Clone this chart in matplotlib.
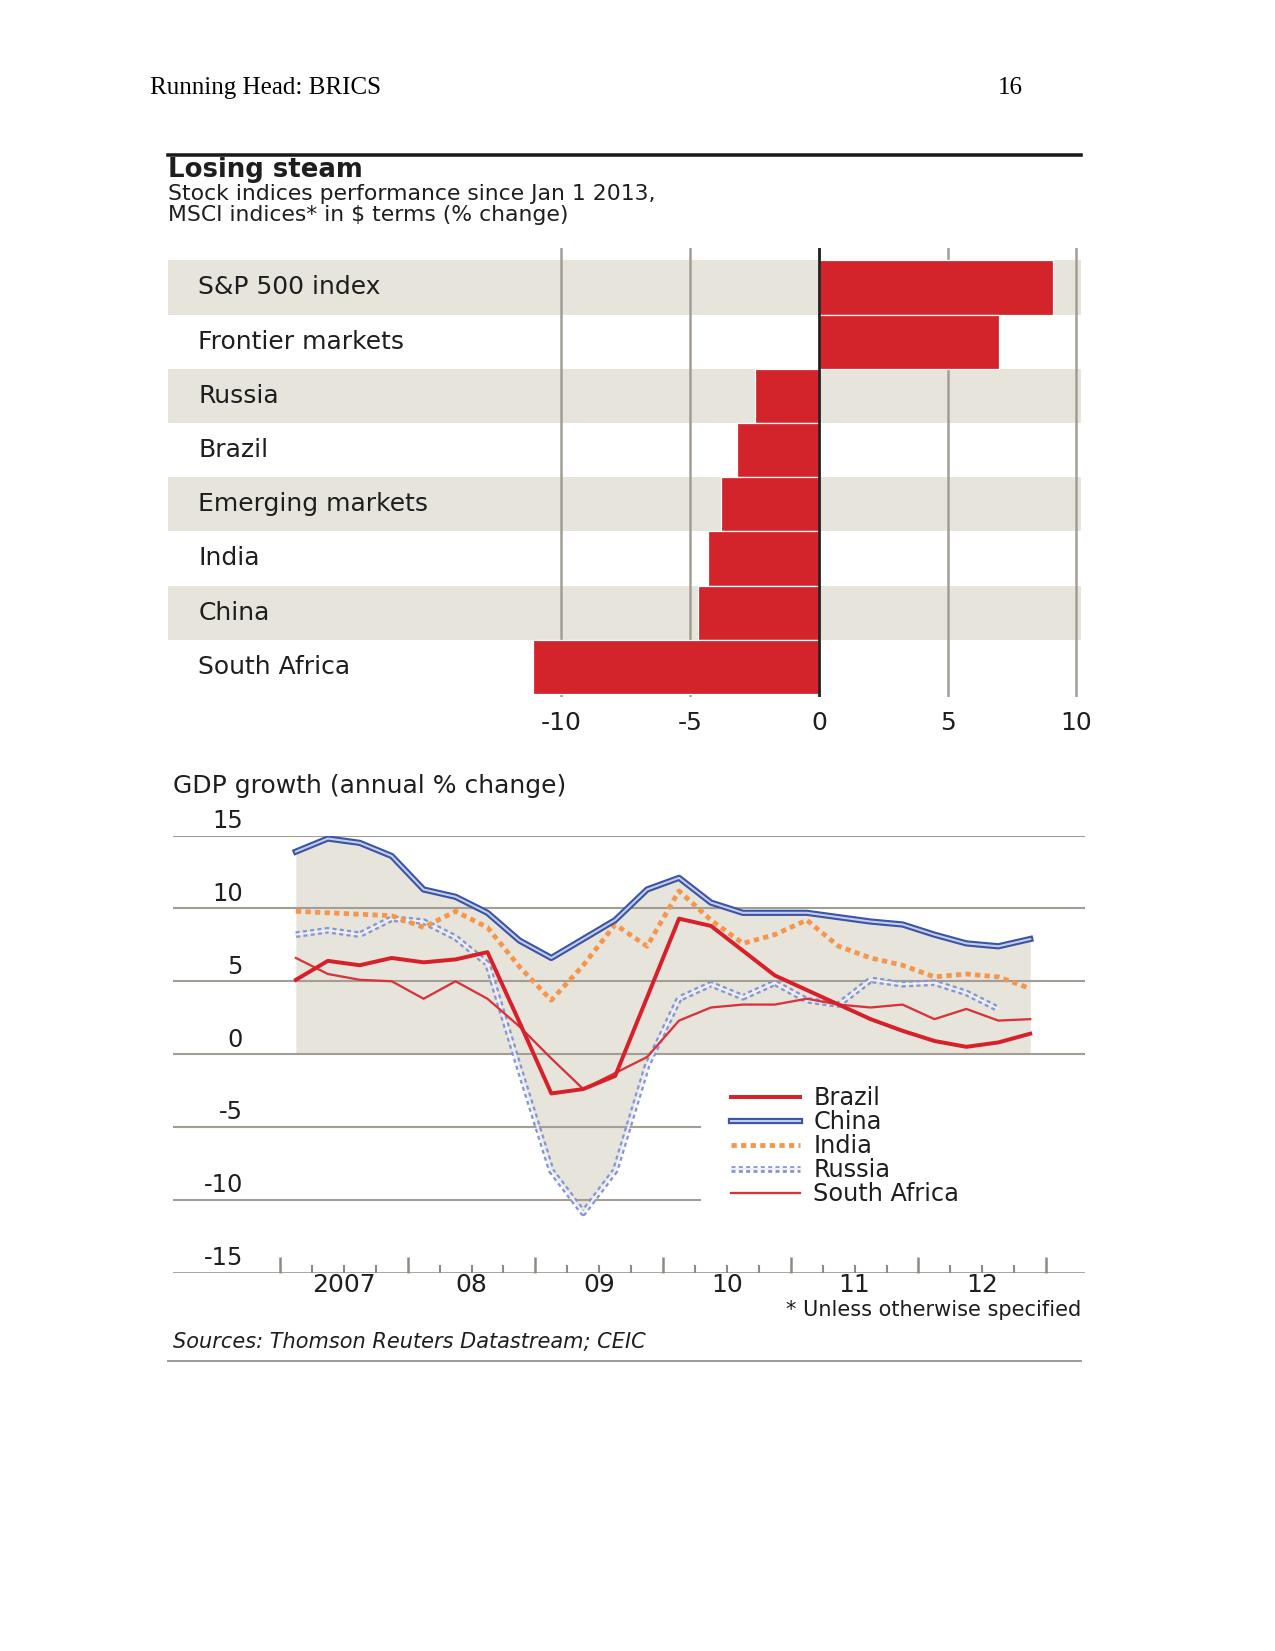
import numpy as np
import matplotlib.pyplot as plt
import matplotlib.transforms as mtransforms
from matplotlib.lines import Line2D
from matplotlib.legend_handler import HandlerTuple

plt.rcParams['font.family'] = ['DejaVu Sans']

W, H = 1275, 1651

# Stock indices performance since Jan 1 2013 (% change)
markets = ['S&P 500 index', 'Frontier markets', 'Russia', 'Brazil',
           'Emerging markets', 'India', 'China', 'South Africa']
perf = [9.1, 7.0, -2.5, -3.2, -3.8, -4.3, -4.7, -11.1]
perf_ticks = [-10, -5, 0, 5, 10]

# GDP growth, annual % change, quarterly
quarters = ['2007Q1', '2007Q2', '2007Q3', '2007Q4', '2008Q1', '2008Q2',
            '2008Q3', '2008Q4', '2009Q1', '2009Q2', '2009Q3', '2009Q4',
            '2010Q1', '2010Q2', '2010Q3', '2010Q4', '2011Q1', '2011Q2',
            '2011Q3', '2011Q4', '2012Q1', '2012Q2', '2012Q3', '2012Q4']
brazil = [5.1, 6.4, 6.1, 6.6, 6.3, 6.5, 7.0, 2.2, -2.7, -2.4, -1.5, 3.9,
          9.3, 8.8, 7.1, 5.4, 4.4, 3.4, 2.4, 1.6, 0.9, 0.5, 0.8, 1.4]
china = [13.9, 14.8, 14.5, 13.6, 11.3, 10.8, 9.7, 7.8, 6.6, 7.9, 9.2, 11.3,
         12.1, 10.4, 9.7, 9.7, 9.7, 9.4, 9.1, 8.9, 8.2, 7.6, 7.4, 7.9]
india = [9.8, 9.7, 9.6, 9.5, 8.7, 9.8, 8.7, 6.0, 3.7, 6.1, 8.9, 7.4,
         11.2, 9.2, 7.6, 8.2, 9.2, 7.4, 6.6, 6.1, 5.3, 5.5, 5.3, 4.5]
russia = [8.2, 8.5, 8.2, 9.3, 9.1, 8.0, 6.2, -1.0, -8.0, -10.9, -8.0, -0.8,
          3.8, 4.8, 3.9, 4.9, 3.7, 3.4, 5.1, 4.8, 4.9, 4.2, 3.1]
south_africa = [6.6, 5.5, 5.1, 5.0, 3.8, 5.0, 3.8, 1.9, -0.3, -2.4, -1.3, -0.2,
                2.3, 3.2, 3.4, 3.4, 3.8, 3.4, 3.2, 3.4, 2.4, 3.1, 2.3, 2.4]
gdp_ticks = [15, 10, 5, 0, -5, -10, -15]
year_labels = ['2007', '08', '09', '10', '11', '12']

RED = '#d3232b'
BAND = '#e7e4db'
GRID = '#a29e95'
TXT = '#1e1e1e'


def rect(x0, y0, x1, y1):
    # pixel box -> figure fraction
    return [x0 / W, 1 - y1 / H, (x1 - x0) / W, (y1 - y0) / H]


def qpos(q):
    return int(q[:4]) + (int(q[5]) - 0.5) / 4


fig = plt.figure(figsize=(W / 150, H / 150), dpi=150)

fig.text(150 / W, 1 - 88 / H, 'Running Head: BRICS', family='Liberation Serif',
         fontsize=12, va='center', color='black')
fig.text(998 / W, 1 - 88 / H, '16', family='Liberation Serif',
         fontsize=12, va='center', color='black')

# header block
fig.add_artist(Line2D([168 / W, 1081 / W], [1 - 155 / H] * 2, color='#1a1a1a', lw=1.7))
fig.text(168 / W, 1 - 170 / H, 'Losing steam', fontsize=12.5, weight='bold',
         va='center', color=TXT)
fig.text(168 / W, 1 - 194 / H, 'Stock indices performance since Jan 1 2013,',
         fontsize=10.5, va='center', color=TXT)
fig.text(168 / W, 1 - 215 / H, 'MSCI indices* in $ terms (% change)',
         fontsize=10.5, va='center', color=TXT)

# ---- bar chart ----
ax1 = fig.add_axes(rect(168, 248, 1081, 697))
ax1.set_xlim(-25.28, 10.18)
ax1.set_ylim(7.557, -0.727)
for i in range(0, len(markets), 2):
    ax1.axhspan(i - 0.5, i + 0.5, color=BAND, lw=0, zorder=0)
for t in perf_ticks:
    ax1.axvline(t, color=GRID, lw=1.2, zorder=1)
ax1.barh(range(len(markets)), perf, height=1.0, color=RED,
         edgecolor='white', linewidth=0.6, zorder=2)
ax1.axvline(0, color='#222222', lw=1.3, zorder=3)
lab_tr = mtransforms.blended_transform_factory(ax1.transAxes, ax1.transData)
for i, name in enumerate(markets):
    ax1.text(0.033, i, name, transform=lab_tr, fontsize=12, va='center',
             ha='left', color=TXT)
ax1.set_xticks(perf_ticks, [str(t) for t in perf_ticks])
ax1.tick_params(axis='x', length=0, pad=6.5, labelsize=12, labelcolor=TXT)
ax1.set_yticks([])
for s in ax1.spines.values():
    s.set_visible(False)

# ---- GDP chart ----
fig.text(173 / W, 1 - 786 / H, 'GDP growth (annual % change)', fontsize=12,
         va='center', color=TXT)

x = np.array([qpos(q) for q in quarters])
series = np.full((5, len(x)), np.nan)
for k, s in enumerate([brazil, china, india, russia, south_africa]):
    series[k, :len(s)] = s
upper = np.nanmax(series, axis=0)
lower = np.nanmin(series, axis=0)

ax2 = fig.add_axes(rect(172.8, 835.6, 1085, 1272.6))
ax2.set_xlim(2006.161, 2013.304)
ax2.set_ylim(-15, 15)
ax2.fill_between(x, 0, upper, color=BAND, lw=0, zorder=0)
ax2.fill_between(x, lower, 0, where=lower < 0, interpolate=True,
                 color=BAND, lw=0, zorder=0)
for v in gdp_ticks[:4]:
    ax2.axhline(v, color=GRID, lw=1.0, zorder=1)
for v in gdp_ticks[4:6]:
    ax2.axhline(v, xmax=0.5776, color=GRID, lw=1.0, zorder=1)
ax2.axhline(-15, color='#8e8a82', lw=1.2, zorder=1)

ytr = mtransforms.blended_transform_factory(ax2.transAxes, ax2.transData)
for v in gdp_ticks:
    ax2.text(0.0767, v + 1.0, str(v), transform=ytr, ha='right', va='center',
             fontsize=11.5, color=TXT)

# line styles
ru_out = dict(color='#8795d3', lw=3.2, ls=(0, (0.6, 0.5)))
ru_in = dict(color='#eef0fa', lw=1.0)
in_sty = dict(color='#f5964c', lw=2.3, ls=(0, (1.1, 0.9)))
ch_out = dict(color='#3b54a4', lw=3.0)
ch_in = dict(color='#c3cdee', lw=1.0)
sa_sty = dict(color='#d6343c', lw=1.1)
br_sty = dict(color='#d7202a', lw=1.9)

xr = x[:len(russia)]
ax2.plot(xr, russia, zorder=3, **ru_out)
ax2.plot(xr, russia, zorder=3.1, **ru_in)
ax2.plot(x, india, zorder=4, **in_sty)
ax2.plot(x, china, zorder=5, **ch_out)
ax2.plot(x, china, zorder=5.1, **ch_in)
ax2.plot(x, south_africa, zorder=6, **sa_sty)
ax2.plot(x, brazil, zorder=7, **br_sty)

ax2.set_xticks(range(2007, 2014))
ax2.set_xticks(np.arange(2007, 2013.01, 0.25), minor=True)
ax2.tick_params(axis='x', which='major', direction='in', length=7.7, width=1.2,
                color='#8e8a82', labelbottom=False)
ax2.tick_params(axis='x', which='minor', direction='in', length=3.7, width=1.0,
                color='#8e8a82')
ax2.set_yticks([])
for s in ax2.spines.values():
    s.set_visible(False)
for k, lab in enumerate(year_labels):
    ax2.text(2007.5 + k, -15.87, lab, ha='center', va='center', fontsize=12,
             color=TXT, clip_on=False)

handles = [Line2D([], [], **br_sty),
           (Line2D([], [], **ch_out), Line2D([], [], **ch_in)),
           Line2D([], [], **in_sty),
           (Line2D([], [], **ru_out), Line2D([], [], **ru_in)),
           Line2D([], [], **sa_sty)]
leg = ax2.legend(handles, ['Brazil', 'China', 'India', 'Russia', 'South Africa'],
                 handler_map={tuple: HandlerTuple(ndivide=1)},
                 loc='upper left', bbox_to_anchor=(730.8 / W, 1 - 1086 / H),
                 bbox_transform=fig.transFigure, frameon=False, fontsize=11.5,
                 handlelength=2.9, handletextpad=0.55, labelspacing=0.0,
                 borderpad=0, borderaxespad=0)
for t in leg.get_texts():
    t.set_color(TXT)

fig.text(1081 / W, 1 - 1310 / H, '* Unless otherwise specified', fontsize=10,
         ha='right', va='center', color=TXT)
fig.text(173 / W, 1 - 1342 / H, 'Sources: Thomson Reuters Datastream; CEIC',
         fontsize=10, style='italic', ha='left', va='center', color=TXT)
fig.add_artist(Line2D([168 / W, 1081 / W], [1 - 1361 / H] * 2, color='#9a968e', lw=0.9))

fig.savefig('out.png', dpi=150)
